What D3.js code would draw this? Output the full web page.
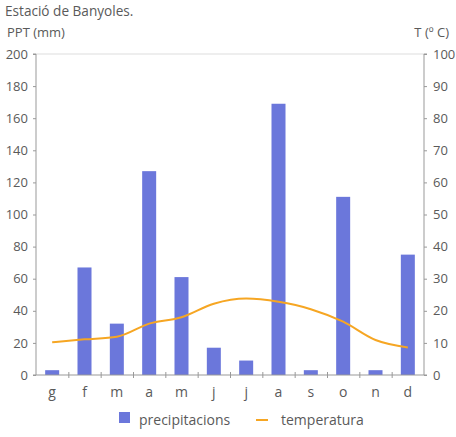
<!DOCTYPE html>
<html><head><meta charset="utf-8">
<script src="https://cdn.jsdelivr.net/npm/d3@7"></script>
<style>body{margin:0;background:#fff}svg text{font-family:"Open Sans","Noto Sans",sans-serif;fill:#5a5a5a}</style>
</head><body><svg id="c" width="456" height="437"></svg>
<script>
const months = ["g","f","m","a","m","j","j","a","s","o","n","d"];
const precip = [3, 67, 32, 127, 61, 17, 9, 169, 3, 111, 3, 75];
const temp = [10.2, 11.1, 11.9, 16, 18, 22.2, 23.8, 22.8, 20.5, 16.6, 10.9, 8.6];
const leftTicks = [0,20,40,60,80,100,120,140,160,180,200];
const rightTicks = [0,10,20,30,40,50,60,70,80,90,100];

const svg = d3.select("#c");
const L=36, R=424, T=54, B=375;
const x = d3.scaleBand().domain(d3.range(12)).range([L,R]).padding(0);
const yL = d3.scaleLinear().domain([0,200]).range([B,T]);
const yR = d3.scaleLinear().domain([0,100]).range([B,T]);
const axisCol = "#999";

svg.append("line").attr("x1",L).attr("x2",R).attr("y1",T).attr("y2",T).attr("stroke","#ddd").attr("stroke-width",1);

// bars
const bw = 14;
svg.selectAll("rect.bar").data(precip).enter().append("rect")
  .attr("x",(d,i)=>x(i)+x.bandwidth()/2-bw/2).attr("width",bw)
  .attr("y",d=>yL(d)).attr("height",d=>B-yL(d)).attr("fill","#6b77db");

// line
const line = d3.line().x((d,i)=>x(i)+x.bandwidth()/2).y(d=>yR(d)).curve(d3.curveMonotoneX);
svg.append("path").datum(temp).attr("d",line).attr("fill","none").attr("stroke","#f6a623").attr("stroke-width",2);

// left axis
const gl = svg.append("g").attr("transform",`translate(${L},0)`).call(d3.axisLeft(yL).tickValues(leftTicks).tickSize(3).tickPadding(5));
gl.selectAll("text").style("font-size","13px");
// right axis
const gr = svg.append("g").attr("transform",`translate(${R},0)`).call(d3.axisRight(yR).tickValues(rightTicks).tickSize(3).tickPadding(6));
gr.selectAll("text").style("font-size","13px");
// bottom axis
const xb = d3.scaleLinear().domain([0,12]).range([L,R]);
const gb = svg.append("g").attr("transform",`translate(0,${B})`).call(d3.axisBottom(xb).tickValues(d3.range(1,12)).tickSize(3).tickFormat(""));
gb.selectAll(".tick line").attr("y1",-3);
svg.selectAll("text.xl").data(months).enter().append("text").attr("class","xl")
  .attr("x",(d,i)=>x(i)+x.bandwidth()/2).attr("y",B+22).attr("text-anchor","middle").style("font-size","14px").text(d=>d);
[gl,gr,gb].forEach(g=>{g.selectAll("path,line").attr("stroke",axisCol);g.select(".domain").attr("stroke",axisCol);});
gl.select(".domain").attr("d",`M-3,${B}H0V${T}H-3`);
gr.select(".domain").attr("d",`M3,${B}H0V${T}H3`);
gb.select(".domain").attr("d",`M${L},0H${R}`);

// titles
svg.append("text").attr("x",5).attr("y",16).style("font-size","13.6px").text("Estació de Banyoles.");
svg.append("text").attr("x",7).attr("y",37).style("font-size","13px").text("PPT (mm)");
svg.append("text").attr("x",449).attr("y",37).attr("text-anchor","end").style("font-size","13px").text("T (º C)");

// legend
svg.append("rect").attr("x",119).attr("y",412).attr("width",11).attr("height",11).attr("fill","#6b77db");
svg.append("text").attr("x",139).attr("y",425).style("font-size","14px").text("precipitacions");
svg.append("line").attr("x1",256).attr("x2",268).attr("y1",420).attr("y2",420).attr("stroke","#f6a623").attr("stroke-width",2);
svg.append("text").attr("x",281).attr("y",425).style("font-size","14px").text("temperatura");
</script></body></html>
